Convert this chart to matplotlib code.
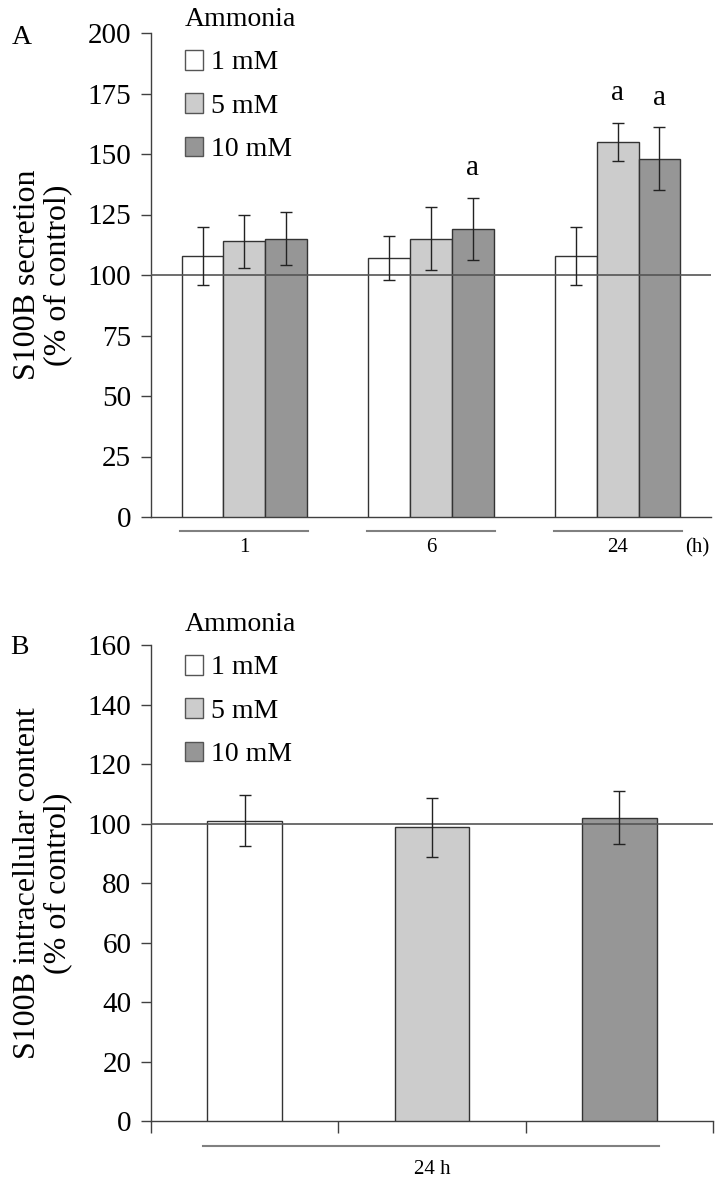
import numpy as np
import matplotlib
matplotlib.use('Agg')
import matplotlib.pyplot as plt
from matplotlib.patches import Patch
import matplotlib.transforms as mtransforms

plt.rcParams['font.family'] = ['Liberation Serif', 'DejaVu Serif']

# ---------------------------------------------------------------
# DATA
# ---------------------------------------------------------------
doses = ['1 mM', '5 mM', '10 mM']
dose_colors = ['#ffffff', '#cccccc', '#969696']

times_a = ['1', '6', '24']
secretion_mean = [[108, 107, 108],    # 1 mM
                  [114, 115, 155],    # 5 mM
                  [115, 119, 148]]    # 10 mM
secretion_err = [[12, 9, 12],
                 [11, 13, 8],
                 [11, 13, 13]]
# significance marks: (time index, dose index)
secretion_sig = [(1, 2), (2, 1), (2, 2)]

content_mean = [101, 98.7, 102]
content_err = [8.7, 10, 9]

# ---------------------------------------------------------------
# FIGURE
# ---------------------------------------------------------------
W, H = 721, 1183
fig = plt.figure(figsize=(W / 100, H / 100), dpi=100)

def px_axes(left, top, right, bottom):
    return fig.add_axes([left / W, 1 - bottom / H, (right - left) / W, (bottom - top) / H])

axA = px_axes(151, 33, 711, 517)
axB = px_axes(151, 645, 713, 1121)

edge = '#333333'
spine_col = '#404040'


def style_axis(ax, yticks):
    for s in ['top', 'right']:
        ax.spines[s].set_visible(False)
    for s in ['left', 'bottom']:
        ax.spines[s].set_color(spine_col)
        ax.spines[s].set_linewidth(1.0)
    ax.set_xlim(-0.5, 2.5)
    ax.set_yticks(yticks)
    ax.tick_params(axis='y', direction='out', length=7.2, width=1.0,
                   color=spine_col, labelsize=21, pad=7)
    ax.axhline(100, color='#555555', lw=1.2, zorder=4)


def add_legend(ax, y_top):
    handles = [Patch(facecolor=c, edgecolor='#555555', lw=1.0) for c in dose_colors]
    leg = ax.legend(handles, doses, title='Ammonia', loc='upper left',
                    bbox_to_anchor=(185 / W, 1 - y_top / H),
                    bbox_transform=fig.transFigure, frameon=False,
                    fontsize=20, title_fontsize=20, alignment='left',
                    handlelength=0.65, handleheight=0.72, handletextpad=0.3,
                    labelspacing=0.64, borderpad=0, borderaxespad=0)
    return leg


# ---------------- Panel A ----------------
x = np.arange(len(times_a))
w = 0.224
for i, dose in enumerate(doses):
    axA.bar(x + (i - 1) * w, secretion_mean[i], width=w, color=dose_colors[i],
            edgecolor=edge, lw=1.0, zorder=3)
    axA.errorbar(x + (i - 1) * w, secretion_mean[i], yerr=secretion_err[i],
                 fmt='none', ecolor='#222222', elinewidth=1.0, capsize=4,
                 capthick=1.0, zorder=5)
for t, d in secretion_sig:
    axA.annotate('a', (x[t] + (d - 1) * w, secretion_mean[d][t] + secretion_err[d][t]),
                 xytext=(0, 16), textcoords='offset points', ha='center',
                 va='baseline', fontsize=21)

style_axis(axA, np.arange(0, 201, 25))
axA.set_ylim(0, 200)
axA.set_xticks([])

trA = mtransforms.blended_transform_factory(axA.transData, axA.transAxes)
for xi, lab in zip(x, times_a):
    axA.plot([xi - 0.343, xi + 0.343], [-0.028, -0.028], color='#808080', lw=1.5,
             transform=trA, clip_on=False)
    axA.text(xi, -0.062, lab, transform=trA, ha='center', va='center', fontsize=15)
axA.text(2.425, -0.064, '(h)', transform=trA, ha='center', va='center', fontsize=15)

axA.set_ylabel('S100B secretion\n(% of control)', fontsize=23, linespacing=1.05)
axA.yaxis.set_label_coords(-0.14, 0.5)
add_legend(axA, 7)
fig.text(22 / W, 1 - 37 / H, 'A', fontsize=20, ha='center', va='center')

# ---------------- Panel B ----------------
xb = np.arange(len(doses))
axB.bar(xb, content_mean, width=0.4, color=dose_colors, edgecolor=edge, lw=1.0, zorder=3)
axB.errorbar(xb, content_mean, yerr=content_err, fmt='none', ecolor='#222222',
             elinewidth=1.0, capsize=4, capthick=1.0, zorder=5)
style_axis(axB, np.arange(0, 161, 20))
axB.set_ylim(0, 160)
axB.set_xticks([-0.5, 0.5, 1.5, 2.5])
axB.set_xticklabels([])
axB.tick_params(axis='x', direction='out', length=8.6, width=1.0, color=spine_col)

trB = mtransforms.blended_transform_factory(axB.transData, axB.transAxes)
axB.plot([-0.22, 2.21], [-0.0525, -0.0525], color='#808080', lw=1.5,
         transform=trB, clip_on=False)
axB.text(1.0, -0.101, '24 h', transform=trB, ha='center', va='center', fontsize=15)

axB.set_ylabel('S100B intracellular content\n(% of control)', fontsize=23, linespacing=1.05)
axB.yaxis.set_label_coords(-0.14, 0.5)
add_legend(axB, 612)
fig.text(19 / W, 1 - 647 / H, 'B', fontsize=20, ha='center', va='center')

fig.savefig('out.png', dpi=100)
